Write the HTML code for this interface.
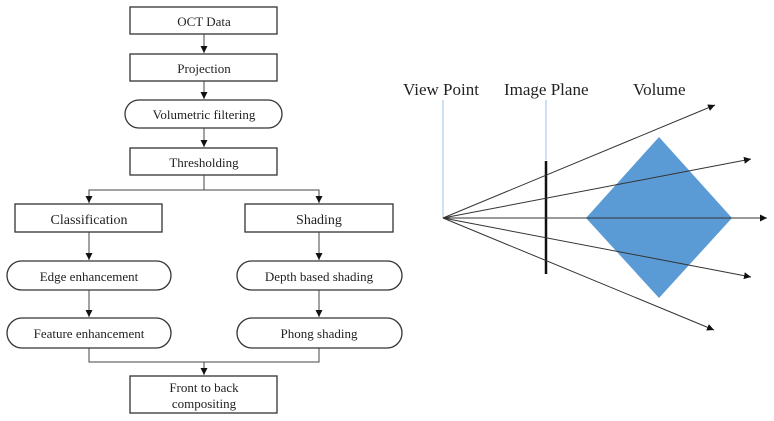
<!DOCTYPE html>
<html><head><meta charset="utf-8"><style>
html,body{margin:0;padding:0;background:#fff;}
svg{display:block;}
text{font-family:"Liberation Serif",serif;fill:#222;}
</style></head><body>
<svg width="774" height="421" viewBox="0 0 774 421" xmlns="http://www.w3.org/2000/svg">
<defs>
<marker id="a" markerWidth="8" markerHeight="8" refX="7" refY="4" orient="auto" markerUnits="userSpaceOnUse"><path d="M0,0.5 L7,4 L0,7.5z" fill="#111"/></marker>
</defs>
<g stroke="#333" stroke-width="1.3" fill="#fff">
<rect x="130" y="7" width="147" height="27"/>
<rect x="130" y="54" width="147" height="27"/>
<rect x="125" y="100" width="157" height="28" rx="14" ry="14"/>
<rect x="130" y="148" width="147" height="27"/>
<rect x="15" y="204" width="147" height="28"/>
<rect x="245" y="204" width="148" height="28"/>
<rect x="7" y="261" width="164" height="29" rx="14.5" ry="14.5"/>
<rect x="237" y="261" width="165" height="29" rx="14.5" ry="14.5"/>
<rect x="7" y="318" width="164" height="30" rx="15" ry="15"/>
<rect x="237" y="318" width="165" height="30" rx="15" ry="15"/>
<rect x="130" y="376" width="147" height="37"/>
</g>
<g stroke="#444" stroke-width="1" fill="none">
<line x1="204" y1="34" x2="204" y2="53" marker-end="url(#a)"/>
<line x1="204" y1="81" x2="204" y2="99" marker-end="url(#a)"/>
<line x1="204" y1="128" x2="204" y2="147" marker-end="url(#a)"/>
<polyline points="204,175 204,190 89,190 89,203" marker-end="url(#a)"/>
<polyline points="204,190 319,190 319,203" marker-end="url(#a)"/>
<line x1="89" y1="232" x2="89" y2="260" marker-end="url(#a)"/>
<line x1="319" y1="232" x2="319" y2="260" marker-end="url(#a)"/>
<line x1="89" y1="290" x2="89" y2="317" marker-end="url(#a)"/>
<line x1="319" y1="290" x2="319" y2="317" marker-end="url(#a)"/>
<polyline points="89,348 89,362 319,362 319,348"/>
<line x1="204" y1="362" x2="204" y2="375" marker-end="url(#a)"/>
</g>
<g font-size="13" text-anchor="middle">
<text x="204" y="26">OCT Data</text>
<text x="204" y="73">Projection</text>
<text x="204" y="119">Volumetric filtering</text>
<text x="204" y="167">Thresholding</text>
<text x="89" y="224" font-size="14">Classification</text>
<text x="319" y="224" font-size="14">Shading</text>
<text x="89" y="281">Edge enhancement</text>
<text x="319" y="281">Depth based shading</text>
<text x="89" y="338">Feature enhancement</text>
<text x="319" y="338">Phong shading</text>
<text x="204" y="392">Front to back</text>
<text x="204" y="408">compositing</text>
</g>
<!-- right diagram -->
<polygon points="586,218 659,137 732,218 659,298" fill="#5b9bd5"/>
<line x1="443" y1="100" x2="443" y2="218" stroke="#9cc3e8" stroke-width="1"/>
<line x1="546" y1="100" x2="546" y2="160" stroke="#9cc3e8" stroke-width="1"/>
<line x1="546" y1="161" x2="546" y2="274" stroke="#111" stroke-width="2.5"/>
<g stroke="#333" stroke-width="1" fill="none">
<line x1="443" y1="218" x2="715" y2="105" marker-end="url(#a)"/>
<line x1="443" y1="218" x2="751" y2="159" marker-end="url(#a)"/>
<line x1="443" y1="218" x2="767" y2="218" marker-end="url(#a)"/>
<line x1="443" y1="218" x2="751" y2="277" marker-end="url(#a)"/>
<line x1="443" y1="218" x2="714" y2="330" marker-end="url(#a)"/>
</g>
<g font-size="17">
<text x="403" y="95">View Point</text>
<text x="504" y="95">Image Plane</text>
<text x="633" y="95">Volume</text>
</g>
</svg>
</body></html>
